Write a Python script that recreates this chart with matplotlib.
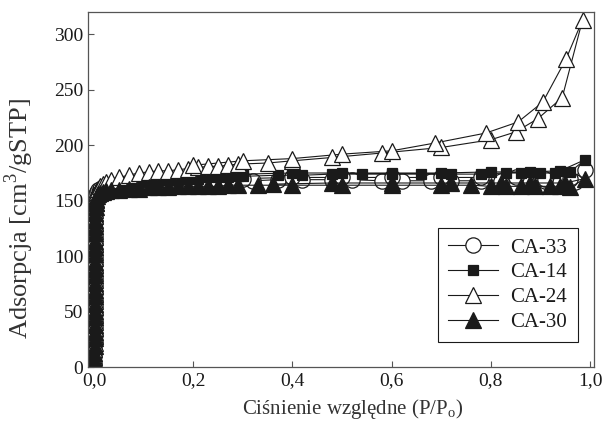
import matplotlib
matplotlib.use('Agg')
import matplotlib.pyplot as plt
from matplotlib.ticker import FuncFormatter, MultipleLocator

plt.rcParams['font.family'] = ['Liberation Serif', 'DejaVu Serif']
plt.rcParams['mathtext.fontset'] = 'custom'
plt.rcParams['mathtext.rm'] = 'Liberation Serif'

# wspolne cisnienia dla czesci pionowej i zakrzywienia
p_low = [0.0008, 0.0009, 0.0010, 0.0011, 0.0012, 0.0013, 0.0014, 0.0015, 0.0016, 0.0017,
         0.0018, 0.0019, 0.0020, 0.0021, 0.0022, 0.0023, 0.0024, 0.0025, 0.0026, 0.0027,
         0.0028, 0.0029, 0.0030, 0.0032, 0.0035]
p_mid = [0.004, 0.006, 0.009, 0.013, 0.018, 0.025, 0.035, 0.05, 0.07, 0.09,
         0.11, 0.13, 0.15, 0.17, 0.19, 0.21, 0.23, 0.25, 0.27, 0.29]

# CA-33
v33_low = [4, 10, 17, 23, 29, 36, 42, 48, 55, 61, 67, 74, 80, 86, 93, 99, 105, 112, 118, 124,
           131, 137, 143, 149, 153]
v33_mid = [156, 158, 160, 161, 162, 163, 164, 165, 165, 166, 166, 166, 167, 167, 167, 167, 167,
           168, 168, 168]
p33_high = [0.32, 0.37, 0.42, 0.48, 0.52, 0.58, 0.62, 0.68, 0.72, 0.78, 0.82, 0.87, 0.91, 0.94,
            0.97, 0.99]
v33_high = [168, 169, 169, 169, 169, 168, 168, 168, 168, 168, 168, 168, 168, 167, 167, 178]
p33_des = [0.96, 0.91, 0.85, 0.78, 0.70, 0.60, 0.50, 0.40, 0.30, 0.20]
v33_des = [170, 170, 171, 171, 171, 171, 171, 171, 170, 169]

# CA-14
v14_low = [2, 8, 14, 21, 27, 34, 40, 46, 53, 59, 65, 72, 78, 84, 91, 97, 103, 110, 116, 122,
           129, 135, 141, 146, 150]
v14_mid = [153, 156, 158, 160, 162, 163, 164, 165, 166, 167, 168, 168, 169, 169, 170, 170, 171,
           171, 171, 172]
p14_high = [0.30, 0.37, 0.42, 0.48, 0.54, 0.60, 0.66, 0.72, 0.78, 0.83, 0.86, 0.90, 0.93, 0.96,
            0.99]
v14_high = [172, 173, 173, 174, 174, 174, 174, 174, 174, 175, 175, 175, 175, 176, 187]
p14_des = [0.94, 0.88, 0.80, 0.70, 0.60, 0.50, 0.40, 0.30]
v14_des = [177, 176, 176, 175, 175, 175, 175, 174]

# CA-24
v24_low = [3, 9, 16, 22, 28, 35, 41, 47, 54, 60, 66, 73, 79, 85, 92, 98, 104, 111, 117, 123,
           130, 136, 142, 148, 152]
v24_mid = [155, 158, 161, 163, 165, 167, 169, 171, 173, 175, 176, 177, 177, 178, 179, 180, 181,
           181, 182, 183]
p24_high = [0.35, 0.40, 0.48, 0.58, 0.70, 0.80, 0.85, 0.895, 0.944, 0.985]
v24_high = [184, 186, 189, 193, 198, 205, 212, 224, 243, 313]
p24_des = [0.952, 0.905, 0.855, 0.79, 0.687, 0.60, 0.50, 0.40, 0.30, 0.20]
v24_des = [278, 239, 221, 211, 202, 195, 192, 188, 186, 182]

# CA-30
v30_low = [1, 7, 13, 19, 26, 32, 38, 45, 51, 57, 64, 70, 76, 83, 89, 95, 102, 108, 114, 121,
           127, 133, 139, 144, 148]
v30_mid = [151, 154, 156, 157, 158, 159, 160, 160, 161, 161, 162, 162, 162, 163, 163, 163, 163,
           163, 164, 164]
p30_high = [0.33, 0.40, 0.50, 0.60, 0.70, 0.76, 0.80, 0.83, 0.86, 0.89, 0.92, 0.94, 0.96, 0.99]
v30_high = [164, 164, 164, 164, 164, 164, 163, 163, 163, 163, 163, 163, 162, 170]
p30_des = [0.95, 0.88, 0.82, 0.72, 0.60, 0.48, 0.36]
v30_des = [166, 166, 166, 166, 166, 166, 165]

series = [
    ('CA-33', v33_low, v33_mid, p33_high, v33_high, p33_des, v33_des,
     dict(marker='o', mfc='white', ms=11)),
    ('CA-14', v14_low, v14_mid, p14_high, v14_high, p14_des, v14_des,
     dict(marker='s', mfc='#1a1a1a', ms=6.5)),
    ('CA-24', v24_low, v24_mid, p24_high, v24_high, p24_des, v24_des,
     dict(marker='^', mfc='white', ms=12)),
    ('CA-30', v30_low, v30_mid, p30_high, v30_high, p30_des, v30_des,
     dict(marker='^', mfc='#1a1a1a', ms=11)),
]

fig = plt.figure(figsize=(6.03, 4.33), dpi=100)
ax = fig.add_axes([0.146, 0.152, 0.839, 0.820])

for name, vl, vm, ph, vh, pd_, vd, st in series:
    x = p_low + p_mid + ph + pd_
    y = vl + vm + vh + vd
    ax.plot(x, y, color='#1a1a1a', lw=0.8, mec='#1a1a1a', mew=0.9, label=name, **st)

ax.set_xlim(-0.012, 1.008)
ax.set_ylim(0, 320)
ax.xaxis.set_major_locator(MultipleLocator(0.2))
ax.yaxis.set_major_locator(MultipleLocator(50))
ax.xaxis.set_major_formatter(FuncFormatter(lambda v, pos: ('%.1f' % v).replace('.', ',')))
ax.tick_params(direction='in', length=4, width=0.8, labelsize=14, colors='#555555',
               labelcolor='#1a1a1a')
for s in ax.spines.values():
    s.set_color('#555555')
    s.set_linewidth(0.9)

ax.set_xlabel(r'Ciśnienie względne (P/P$_\mathregular{o}$)', fontsize=15, color='#333333')
ax.set_ylabel(r'Adsorpcja [cm$^\mathregular{3}$/gSTP]', fontsize=19, color='#333333')
ax.xaxis.set_label_coords(0.524, -0.085)
ax.yaxis.set_label_coords(-0.103, 0.42)

leg = ax.legend(loc='lower right', bbox_to_anchor=(0.968, 0.07), fontsize=15,
                fancybox=False, edgecolor='#1a1a1a', framealpha=1, handlelength=2.4,
                handletextpad=0.6, labelspacing=0.25, borderpad=0.5, borderaxespad=0)
leg.get_frame().set_linewidth(0.8)
for t in leg.get_texts():
    t.set_color('#1a1a1a')

fig.savefig('out.png', dpi=100)
